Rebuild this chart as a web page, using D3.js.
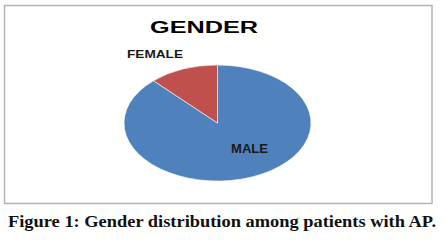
<!DOCTYPE html>
<html>
<head>
<meta charset="utf-8">
<script src="https://cdn.jsdelivr.net/npm/d3@7"></script>
<style>
  body { margin: 0; background: #fff; }
  svg { display: block; }
</style>
</head>
<body>
<svg id="chart"></svg>
<script>
const categories = ["MALE", "FEMALE"];
const values = [88, 12];
const colors = ["#4F81BD", "#C0504D"];
const title = "GENDER";
const caption = "Figure 1: Gender distribution among patients with AP.";

const width = 447, height = 244;

const svg = d3.select("#chart")
    .attr("width", width)
    .attr("height", height);

// chart frame
svg.append("rect")
    .attr("x", 4.5).attr("y", 5.5)
    .attr("width", 427.5).attr("height", 198)
    .attr("fill", "#fff")
    .attr("stroke", "#b4b4b4")
    .attr("stroke-width", 1.5);

// title
svg.append("text")
    .attr("x", 150).attr("y", 33)
    .attr("textLength", 108)
    .attr("lengthAdjust", "spacingAndGlyphs")
    .style("font-family", "Liberation Sans, Arial, sans-serif")
    .style("font-weight", "bold")
    .style("font-size", "16px")
    .attr("fill", "#000")
    .text(title);

// pie, drawn as a circle and stretched into an ellipse
const cx = 217.5, cy = 123, rx = 93.5, ry = 58;

const pie = d3.pie().sort(null).value(d => d.value);
const arc = d3.arc().innerRadius(0).outerRadius(ry);
const data = categories.map((c, i) => ({ name: c, value: values[i], color: colors[i] }));

const g = svg.append("g")
    .attr("transform", `translate(${cx}, ${cy}) scale(${rx / ry}, 1)`);

g.selectAll("path")
    .data(pie(data))
    .join("path")
    .attr("d", arc)
    .attr("fill", d => d.data.color)
    .attr("stroke", "#fff")
    .attr("stroke-width", 0.6)
    .attr("vector-effect", "non-scaling-stroke");

// slice labels
const labelPos = { MALE: [231, 153, 37, 12], FEMALE: [127, 58, 56, 11] };
data.forEach(d => {
    const [x, y, len, fs] = labelPos[d.name];
    svg.append("text")
        .attr("x", x).attr("y", y)
        .attr("textLength", len)
        .attr("lengthAdjust", "spacingAndGlyphs")
        .style("font-family", "Liberation Sans, Arial, sans-serif")
        .style("font-weight", "bold")
        .style("font-size", fs + "px")
        .attr("fill", "#1a1a1a")
        .text(d.name);
});

// figure caption
svg.append("text")
    .attr("x", 8).attr("y", 227)
    .attr("textLength", 428)
    .attr("lengthAdjust", "spacingAndGlyphs")
    .style("font-family", "Liberation Serif, Times New Roman, serif")
    .style("font-weight", "bold")
    .style("font-size", "17px")
    .attr("fill", "#111")
    .text(caption);
</script>
</body>
</html>
